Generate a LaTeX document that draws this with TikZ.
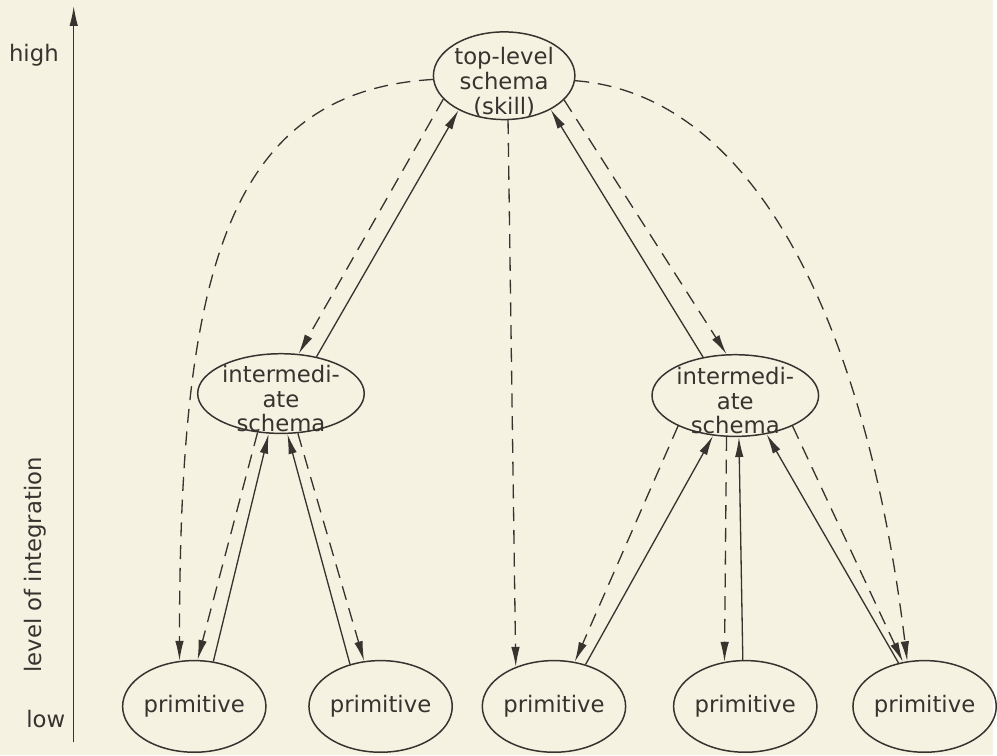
\documentclass[tikz,border=0pt]{standalone}
\usepackage{fontspec}
\setmainfont{DejaVu Sans}
\usetikzlibrary{shapes.geometric,arrows.meta}
\definecolor{paper}{RGB}{246,242,226}
\definecolor{ink}{RGB}{55,51,47}
\newcommand{\ovaltext}[1]{\smash{\raisebox{-8pt}{\begin{tabular}{@{}c@{}}#1\end{tabular}}}}

\begin{document}
\begin{tikzpicture}[x=0.02cm,y=-0.02cm,
        every node/.style={ellipse,draw=ink,line width=0.85pt,inner sep=0pt,text=ink,font=\fontsize{13}{14}\selectfont},
        axislabel/.style={rectangle,draw=none},
        prim/.style={minimum width=2.72cm,minimum height=1.84cm},
        >={Latex[length=4mm,width=1.7mm]},
        link/.style={->,draw=ink,line width=0.75pt},
        dlink/.style={link,dash pattern=on 8pt off 5pt}]
        \fill[paper] (0,0) rectangle (997,758);

        % axis
        \coordinate (axlow) at (74,745);
        \coordinate (axhigh) at (74,6);
        \draw[link] (axlow) -- (axhigh);
        \node[axislabel] at (34,55) (high) {high};
        \node[axislabel] at (46,722) (low) {low};
        \node[axislabel,rotate=90] at (35,567) (level) {level of integration};

        % schemas
        \node[minimum width=2.84cm,minimum height=1.76cm] at (506,76) (top) {\ovaltext{top-level\\schema\\(skill)}};
        \node[minimum width=3cm,minimum height=1.6cm] at (282,395) (intL) {\ovaltext{intermedi-\\ate\\schema}};
        \node[minimum width=3cm,minimum height=1.64cm] at (738,397) (intR) {\ovaltext{intermedi-\\ate\\schema}};

        \node[prim] at (195,709) (p1) {primitive};
        \node[prim] at (382,709) (p2) {primitive};
        \node[prim] at (556,709) (p3) {primitive};
        \node[prim] at (748,709) (p4) {primitive};
        \node[prim] at (928,709) (p5) {primitive};

        % top level
        \draw[link] (intL.46) -- (top.217);
        \draw[dlink] (top.201) -- (intL.66);
        \draw[dlink] (top.183) .. controls (225,92) and (180,280) .. (p1.108);
        \draw[dlink] (top.275) -- (p3.134);
        \draw[link] (intR.130) -- (top.324);
        \draw[dlink] (top.338) -- (intR.102);
        \draw[dlink] (top.356) .. controls (760,95) and (870,330) .. (p5.111);

        % left group
        \draw[dlink] (intL.239) -- (p1.86);
        \draw[link] (p1.67) -- (intL.253);
        \draw[link] (p2.126) -- (intL.279);
        \draw[dlink] (intL.293) -- (p2.110);

        % right group
        \draw[dlink] (intR.208) -- (p3.65);
        \draw[link] (p3.53) -- (intR.241);
        \draw[dlink] (intR.258) -- (p4.115);
        \draw[link] (p4.93) -- (intR.275);
        \draw[link] (p5.121) -- (intR.309);
        \draw[dlink] (intR.332) -- (p5.116);
    \end{tikzpicture}
\end{document}
